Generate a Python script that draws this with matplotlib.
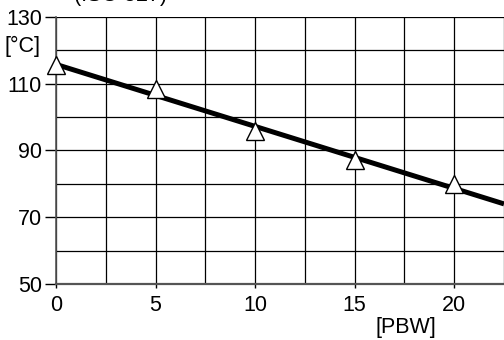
import matplotlib
matplotlib.use("Agg")
import matplotlib.pyplot as plt
from matplotlib.ticker import MultipleLocator

plt.rcParams['font.family'] = ['Liberation Sans', 'DejaVu Sans']

# data
pbw_points = [0, 5, 10, 15, 20]
temp_points = [115.5, 108.4, 95.9, 87.3, 80.1]
fit_x = [0, 22.5]
fit_y = [115.8, 74.0]
x_ticks = [0, 5, 10, 15, 20]
y_ticks = [50, 70, 90, 110, 130]

FS = 15.5

fig = plt.figure(figsize=(5.04, 3.4), dpi=100)
ax = fig.add_axes([56/504, 1-284/340, 1-56/504, (284-17)/340])

ax.plot(fit_x, fit_y, color='black', lw=3.6, solid_capstyle='butt', zorder=3)
ax.plot(pbw_points, temp_points, linestyle='none', marker='^', ms=13,
        mfc='white', mec='black', mew=1.0, zorder=4, clip_on=False)

ax.set_xlim(0, 22.5)
ax.set_ylim(50, 130)
ax.set_xticks(x_ticks)
ax.set_yticks(y_ticks)
ax.xaxis.set_minor_locator(MultipleLocator(2.5))
ax.yaxis.set_minor_locator(MultipleLocator(10))
ax.grid(True, which='both', color='black', lw=0.9)
ax.set_axisbelow(True)
for s in ['top', 'right']:
    ax.spines[s].set_visible(False)
ax.spines['left'].set_color('#555555')
ax.spines['bottom'].set_color('#555555')
ax.spines['left'].set_linewidth(1.2)
ax.spines['bottom'].set_linewidth(1.6)
ax.tick_params(axis='y', which='major', length=8, width=1, labelsize=FS, pad=2)
ax.tick_params(axis='x', which='major', length=3, width=1, labelsize=FS, pad=5)
ax.tick_params(which='minor', length=0)

fig.text(4/504, 1-46/340, '[°C]', fontsize=FS, ha='left', va='center')
fig.text(406/504, 1-328/340, '[PBW]', fontsize=FS, ha='center', va='center')
fig.text(121/504, 1-6/340, '(ISO 527)', fontsize=FS, ha='center', va='bottom')

fig.savefig('out.png', dpi=100)
